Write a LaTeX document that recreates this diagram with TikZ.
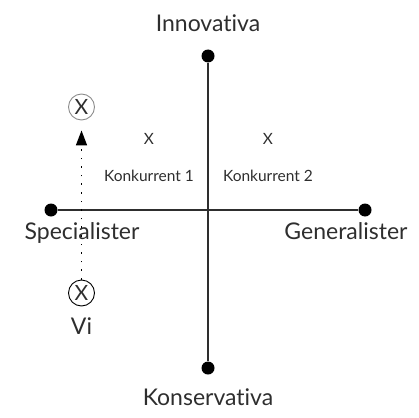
\documentclass[tikz,border=0pt]{standalone}
\usepackage{fontspec}
\setmainfont{Lato}[Ligatures={NoCommon}]
\usetikzlibrary{arrows.meta}
\definecolor{ink}{HTML}{2E2E2E}
\tikzset{
  enddot/.style={circle, fill=black, inner sep=0pt, minimum size=13pt},
  axis/.style={draw=ink, line width=1.2pt},
  biglabel/.style={text=ink, font=\fontsize{23}{23}\selectfont, inner sep=0pt, anchor=base},
  smalllabel/.style={text=ink, font=\fontsize{15.5}{15.5}\selectfont, inner sep=0pt, anchor=base},
  marker/.style={circle, draw, line width=0.9pt, minimum size=26pt, inner sep=0pt,
                 text=ink, font=\fontsize{21}{21}\selectfont},
  movement/.style={draw=black, line width=1.6pt, dash pattern=on 1.6pt off 7pt,
                   -{Triangle[length=15pt, width=11pt]}},
}
\begin{document}
\begin{tikzpicture}[x=1pt, y=-1pt]
  \useasboundingbox (0,0) rectangle (419,417);

  % end points of the two axes
  \node[enddot] (top) at (208,56) {};
  \node[enddot] (bottom) at (208,368) {};
  \node[enddot] (left) at (51,210) {};
  \node[enddot] (right) at (365,210) {};
  \draw[axis] (top) -- (bottom);
  \draw[axis] (left) -- (right);

  % axis labels
  \node[biglabel] (innov) at (208,32) {Innovativa};
  \node[biglabel] (kons) at (208,405) {Konservativa};
  \node[biglabel] (spec) at (82,239) {Specialister};
  \node[biglabel] (gen) at (346,239) {Generalister};

  % competitors
  \node[smalllabel] (x1) at (149,144) {X};
  \node[smalllabel] (x2) at (268,144) {X};
  \node[smalllabel] (k1) at (149,181.5) {Konkurrent 1};
  \node[smalllabel] (k2) at (268,181.5) {Konkurrent 2};

  % our position and where we move
  \node[marker, draw=black!45] (goal) at (81.5,107) {X};
  \node[marker, draw=black] (us) at (81.5,293) {X};
  \node[biglabel] (vi) at (81.5,334) {Vi};
  \draw[movement, shorten >=10pt] (us) -- (goal);
\end{tikzpicture}
\end{document}
